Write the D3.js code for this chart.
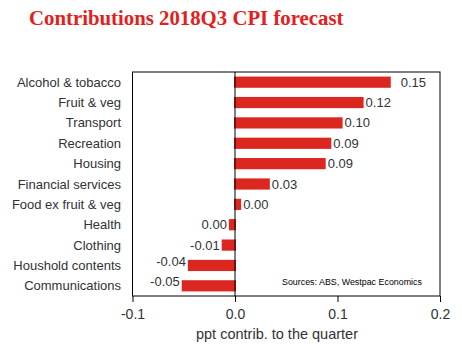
<!DOCTYPE html>
<html><head><meta charset="utf-8">
<script src="https://cdn.jsdelivr.net/npm/d3@7"></script>
<style>body{margin:0;background:#fff}svg{display:block}</style>
</head><body>
<svg id="c" width="462" height="355"></svg>
<script>
const categories = ["Alcohol & tobacco","Fruit & veg","Transport","Recreation","Housing","Financial services","Food ex fruit & veg","Health","Clothing","Houshold contents","Communications"];
const values = [0.151, 0.1245, 0.104, 0.093, 0.0875, 0.033, 0.005, -0.005, -0.012, -0.045, -0.051];
const valueLabels = ["0.15","0.12","0.10","0.09","0.09","0.03","0.00","0.00","-0.01","-0.04","-0.05"];
const xTicks = [-0.1, 0, 0.1, 0.2];
const xTickLabels = ["-0.1","0.0","0.1","0.2"];

const svg = d3.select("#c");
const M = {l:132.5, r:440, t:72, b:296};
const x = d3.scaleLinear().domain([-0.1,0.2]).range([M.l, M.r]);
const y = d3.scaleBand().domain(categories).range([M.t, M.b]).paddingInner(0.45).paddingOuter(0.225);
const txt = "#2f3236";
const font = "Liberation Sans, Arial, sans-serif";

svg.append("text").attr("x",29).attr("y",25).attr("font-family","Liberation Serif, Times New Roman, serif")
  .attr("font-weight","bold").attr("font-size",20.8).attr("fill","#e3201b").text("Contributions 2018Q3 CPI forecast");

// bars
svg.append("g").selectAll("rect").data(values).join("rect")
  .attr("x", d => Math.min(x(d), x(0)) - 1)
  .attr("width", d => Math.abs(x(d)-x(0)) + 2)
  .attr("y", (d,i) => y(categories[i]))
  .attr("height", y.bandwidth())
  .attr("fill","#dc2620");

// zero line
svg.append("line").attr("x1",x(0)).attr("x2",x(0)).attr("y1",M.t).attr("y2",M.b).attr("stroke","#000").attr("stroke-width",1);

// frame
svg.append("rect").attr("x",M.l).attr("y",M.t).attr("width",M.r-M.l).attr("height",M.b-M.t)
  .attr("fill","none").attr("stroke","#000").attr("stroke-width",1);

// category labels
svg.append("g").selectAll("text").data(categories).join("text")
  .attr("x",121).attr("y", d => y(d)+y.bandwidth()/2).attr("dy","0.35em")
  .attr("text-anchor","end").attr("font-family",font).attr("font-size",13).attr("fill",txt).text(d=>d);

// value labels
svg.append("g").selectAll("text").data(values).join("text")
  .attr("x", (d,i) => d >= 0 ? x(d) + (i===0 ? 11 : 3) : x(d) - 3)
  .attr("y", (d,i) => y(categories[i]) + y.bandwidth()/2 - (d < -0.02 ? 4 : 0))
  .attr("dy","0.35em")
  .attr("text-anchor", d => d >= 0 ? "start" : "end")
  .attr("font-family",font).attr("font-size",13).attr("fill",txt)
  .text((d,i)=>valueLabels[i]);

// x axis
const ax = svg.append("g").attr("transform",`translate(0,${M.b})`)
  .call(d3.axisBottom(x).tickValues(xTicks).tickFormat((d,i)=>xTickLabels[i]).tickSize(6).tickPadding(7));
ax.select(".domain").remove();
ax.selectAll("line").attr("stroke","#000");
ax.selectAll("text").attr("font-family",font).attr("font-size",14).attr("fill",txt);

svg.append("text").attr("x",277).attr("y",339).attr("text-anchor","middle").attr("font-family",font)
  .attr("font-size",14.5).attr("fill",txt).text("ppt contrib. to the quarter");

svg.append("text").attr("x",282).attr("y",285).attr("font-family",font).attr("font-size",8.9)
  .attr("fill","#000").text("Sources: ABS, Westpac Economics");
</script>
</body></html>
